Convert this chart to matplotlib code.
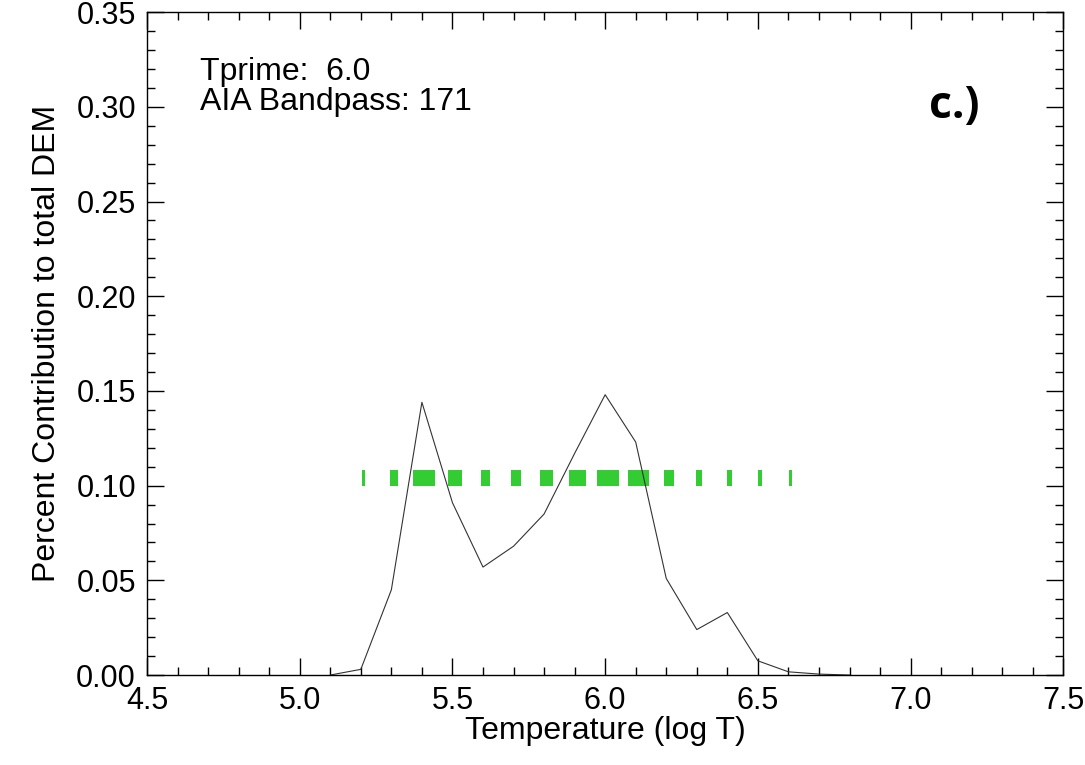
import numpy as np
import matplotlib
matplotlib.use("Agg")
import matplotlib.pyplot as plt

plt.rcParams['font.family'] = ['Liberation Sans', 'DejaVu Sans']

# DEM contribution curve
logT = [5.1, 5.2, 5.3, 5.4, 5.5, 5.6, 5.7, 5.8, 5.9, 6.0,
        6.1, 6.2, 6.3, 6.4, 6.5, 6.6, 6.7, 6.8]
contrib = [0.0, 0.003, 0.045, 0.144, 0.091, 0.057, 0.068, 0.085, 0.117, 0.148,
           0.123, 0.051, 0.024, 0.033, 0.0075, 0.0017, 0.0005, 0.0]

# green bar segments (temperature bins and their widths)
barT = [5.2, 5.3, 5.4, 5.5, 5.6, 5.7, 5.8, 5.9, 6.0, 6.1, 6.2, 6.3, 6.4, 6.5, 6.6]
barW = [0.010, 0.026, 0.072, 0.046, 0.030, 0.033, 0.043, 0.056, 0.072, 0.069,
        0.033, 0.020, 0.016, 0.013, 0.010]
barLevel = 0.10
barHeight = 0.008

fig = plt.figure(figsize=(10.85, 7.65), dpi=100)
ax = fig.add_axes([0.1355, 0.1176, 0.8445, 0.8666])

ax.plot(logT, contrib, color='#333333', lw=0.8)

    # Green segments centred on each bin
ax.broken_barh([(t - w / 2 + 0.008, w) for t, w in zip(barT, barW)],
               (barLevel, barHeight), facecolors='#33cc33', edgecolor='none')

ax.set_xlim(4.5, 7.5)
ax.set_ylim(0.0, 0.35)
ax.set_xticks(np.arange(4.5, 7.51, 0.5))
ax.set_xticks(np.arange(4.5, 7.51, 0.1), minor=True)
ax.set_yticks(np.arange(0.0, 0.351, 0.05))
ax.set_yticks(np.arange(0.0, 0.351, 0.01), minor=True)
ax.set_xticklabels([f"{v:.1f}" for v in np.arange(4.5, 7.51, 0.5)])
ax.set_yticklabels([f"{v:.2f}" for v in np.arange(0.0, 0.351, 0.05)])

ax.tick_params(which='both', direction='in', top=True, right=True,
               labelsize=22, width=1.0)
ax.tick_params(which='major', length=12, pad=8)
ax.tick_params(which='minor', length=6)
for sp in ax.spines.values():
    sp.set_linewidth(1.0)

ax.set_xlabel("Temperature (log T)", fontsize=23, labelpad=0)
ax.set_ylabel("Percent Contribution to total DEM", fontsize=23, labelpad=10)

ax.text(4.674, 0.3144, "Tprime:  6.0", fontsize=23, va='baseline')
ax.text(4.674, 0.2985, "AIA Bandpass: 171", fontsize=23, va='baseline')
ax.text(7.06, 0.294, "c.)", fontsize=32, fontweight='bold',
        family=['Open Sans', 'DejaVu Sans'], va='baseline')

fig.savefig("out.png", dpi=100)
